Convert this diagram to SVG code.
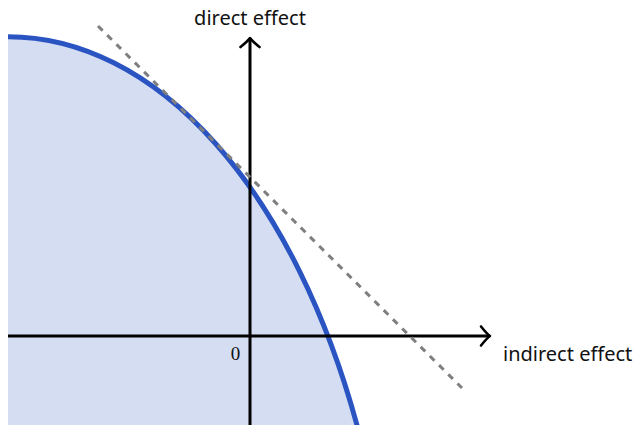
<svg xmlns="http://www.w3.org/2000/svg" width="637" height="425" viewBox="0 0 637 425">
<defs>
<style>
.lbl{font-family:"Noto Sans","DejaVu Sans",sans-serif;fill:#111;}
.axis{stroke:#000;stroke-width:3;fill:none;}
.frontier{stroke:#2b54c3;stroke-width:5;fill:none;}
.region{fill:#d4ddf1;stroke:none;}
.tangent{stroke:#7f7f7f;stroke-width:3;stroke-dasharray:6.5 6.5;fill:none;}
</style>
<marker id="arr" markerUnits="userSpaceOnUse" viewBox="-12 -12 16 24" markerWidth="16" markerHeight="24" refX="0" refY="0" orient="auto">
<path d="M -9 -9.5 Q -3 -2 0 0 Q -3 2 -9 9.5" fill="none" stroke="#000" stroke-width="2.6" stroke-linecap="round" stroke-linejoin="round"/>
</marker>
</defs>
<rect width="637" height="425" fill="#fff"/>
<g id="region">
<path class="region" d="M 8 36.7 A 387.7 688.3 0 0 1 358.3 430 L 8 430 Z"/>
</g>
<g id="frontier">
<path class="frontier" d="M 8 36.7 A 387.7 688.3 0 0 1 358.3 430"/>
</g>
<g id="connectors">
<line id="x-axis" class="axis" x1="8" y1="336" x2="490" y2="336" marker-end="url(#arr)"/>
<line id="y-axis" class="axis" x1="250" y1="425" x2="250" y2="38" marker-end="url(#arr)"/>
<line id="tangent" class="tangent" x1="98" y1="26" x2="462" y2="388"/>
</g>
<g id="labels">
<text class="lbl" x="250" y="25" font-size="20" text-anchor="middle">direct effect</text>
<text class="lbl" x="503" y="361" font-size="20">indirect effect</text>
<text x="235.5" y="360" font-size="19" text-anchor="middle" font-family="Liberation Serif,serif" fill="#111">0</text>
</g>
</svg>
